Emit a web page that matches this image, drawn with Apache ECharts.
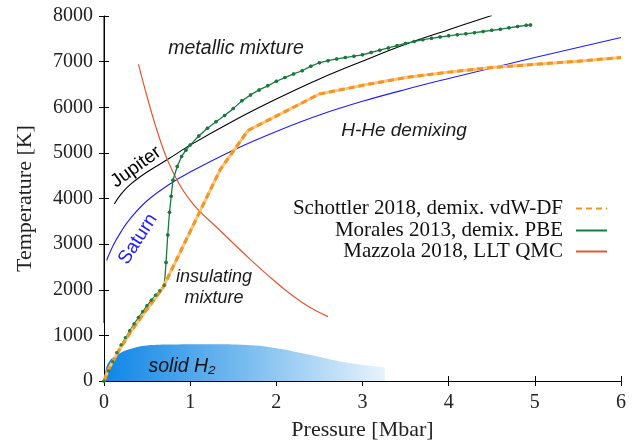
<!DOCTYPE html>
<html>
<head>
<meta charset="utf-8">
<script src="https://cdn.jsdelivr.net/npm/echarts@6/dist/echarts.min.js"></script>
<style>html,body{margin:0;padding:0;background:#fff;}#c{width:635px;height:446px;}</style>
</head>
<body>
<div id="c"></div>
<script>
// ---- data (pressure in Mbar, temperature in K) ----
var xTicks = [0, 1, 2, 3, 4, 5, 6];
var yTicks = [0, 1000, 2000, 3000, 4000, 5000, 6000, 7000, 8000];

var schottler = [[0,0],[0.05,250],[0.15,600],[0.3,1050],[0.45,1450],[0.68,2030],[1.35,4640],[1.67,5490],
  [2.5,6290],[3.0,6480],[3.5,6650],[4.0,6770],[4.5,6870],[5.0,6940],[5.5,7010],[6.0,7090]];

var morales = [[0,0],[0.05,220],[0.1,420],[0.15,620],[0.2,790],[0.25,950],[0.3,1100],[0.35,1250],[0.4,1390],
  [0.45,1520],[0.5,1650],[0.55,1770],[0.6,1880],[0.65,1980],[0.7,2100],[0.72,2600],[0.74,3200],[0.76,3700],
  [0.78,4050],[0.8,4400],[0.85,4700],[0.9,4920],[0.95,5060],[1.0,5170],[1.1,5370],[1.2,5540],[1.3,5680],
  [1.4,5820],[1.5,5970],[1.6,6140],[1.7,6270],[1.8,6380],[1.9,6470],[2.0,6570],[2.1,6650],[2.2,6730],
  [2.3,6800],[2.4,6900],[2.5,6975],[2.6,7020],[2.7,7060],[2.8,7090],[2.9,7120],[3.0,7150],[3.1,7200],
  [3.2,7250],[3.3,7300],[3.4,7350],[3.5,7400],[3.6,7440],[3.7,7480],[3.8,7510],[3.9,7540],[4.0,7565],
  [4.1,7590],[4.2,7610],[4.3,7635],[4.4,7660],[4.5,7685],[4.6,7710],[4.7,7740],[4.8,7770],[4.9,7795],[4.95,7805]];

var mazzola = [[0.4,6940],[0.5,6230],[0.6,5580],[0.7,5020],[0.8,4580],[0.9,4230],[1.0,3960],[1.1,3740],
  [1.3,3380],[1.5,3020],[1.7,2660],[1.9,2320],[2.1,2000],[2.3,1720],[2.45,1550],[2.6,1410]];

var jupiter = [[0.12,3880],[0.2,4100],[0.3,4300],[0.5,4580],[0.75,4870],[1.0,5170],[1.5,5700],[2.0,6180],
  [2.5,6620],[3.0,7010],[3.5,7380],[4.0,7700],[4.5,8010]];

var saturn = [[0.03,2640],[0.1,2950],[0.2,3280],[0.3,3550],[0.5,3950],[0.75,4300],[1.0,4580],[1.5,5060],
  [2.0,5470],[2.5,5830],[3.0,6130],[3.5,6390],[4.0,6630],[4.5,6860],[5.0,7090],[5.5,7310],[6.0,7530]];

var solidH2 = [[0,0],[0.02,250],[0.06,430],[0.15,570],[0.3,700],[0.5,780],[0.8,800],[1.2,805],[1.6,795],
  [2.0,720],[2.4,570],[2.8,410],[3.1,330],[3.26,300]];

var leftAxisDark = [[0,1270],[0,8000]];

var names = {
  s: 'Schottler 2018, demix. vdW-DF',
  m: 'Morales 2013, demix. PBE',
  z: 'Mazzola 2018, LLT QMC'
};

// ---- chart ----
var serif = 'Liberation Serif';
var sans = 'Liberation Sans';
var chart = echarts.init(document.getElementById('c'), null, {renderer: 'canvas'});

function legendFor(name, top) {
  return {
    data: [name], right: 27, top: top, orient: 'vertical', align: 'right',
    itemWidth: 31, itemHeight: 10, selectedMode: false, padding: 0,
    itemStyle: {opacity: 0},
    textStyle: {fontFamily: serif, fontSize: 21, color: '#111', lineHeight: 20, padding: [0, 8, 0, 0]}
  };
}

var plainLabel = function (v) { return String(v); };

var option = {
  animation: false,
  backgroundColor: '#fff',
  grid: {left: 104, right: 14, top: 16, bottom: 63, containLabel: false},
  xAxis: [{
    type: 'value', min: xTicks[0], max: xTicks[xTicks.length - 1], interval: 1, position: 'bottom',
    axisLine: {onZero: false, lineStyle: {color: '#000', width: 1}},
    axisTick: {inside: true, length: 5, lineStyle: {color: '#000'}},
    splitLine: {show: false},
    axisLabel: {fontFamily: serif, fontSize: 20, color: '#222', margin: 12, formatter: plainLabel},
    name: 'Pressure [Mbar]', nameLocation: 'middle', nameGap: 38,
    nameTextStyle: {fontFamily: serif, fontSize: 22, color: '#222'}
  }, {
    type: 'value', min: xTicks[0], max: xTicks[xTicks.length - 1], interval: 1, position: 'top',
    axisLine: {lineStyle: {color: '#000', width: 1}},
    axisTick: {inside: true, length: 5, lineStyle: {color: '#000'}},
    axisLabel: {show: false}, splitLine: {show: false}
  }],
  yAxis: [{
    type: 'value', min: yTicks[0], max: yTicks[yTicks.length - 1], interval: 1000, position: 'left',
    axisLine: {show: true, onZero: false, lineStyle: {color: '#9a9a9a', width: 1}},
    axisTick: {show: true, inside: true, length: 5, lineStyle: {color: '#000'}},
    splitLine: {show: false},
    axisLabel: {fontFamily: serif, fontSize: 20, color: '#222', margin: 11, formatter: plainLabel},
    name: 'Temperature [K]', nameLocation: 'middle', nameGap: 68,
    nameTextStyle: {fontFamily: serif, fontSize: 22, color: '#222'}
  }, {
    type: 'value', min: yTicks[0], max: yTicks[yTicks.length - 1], interval: 1000, position: 'right',
    axisLine: {show: true, lineStyle: {color: '#000', width: 1}},
    axisTick: {show: true, inside: true, length: 5, lineStyle: {color: '#000'}},
    axisLabel: {show: false}, splitLine: {show: false}
  }],
  legend: [legendFor(names.s, 198), legendFor(names.m, 220), legendFor(names.z, 241)],
  graphic: [
    {type: 'text', position: [236, 49], style: {text: 'metallic mixture', align: 'center', verticalAlign: 'middle', font: 'italic 19.5px ' + sans, fill: '#1a1a1a'}},
    {type: 'text', position: [404, 131], style: {text: 'H-He demixing', align: 'center', verticalAlign: 'middle', font: 'italic 19px ' + sans, fill: '#1a1a1a'}},
    {type: 'text', position: [214, 277], style: {text: 'insulating', align: 'center', verticalAlign: 'middle', font: 'italic 18px ' + sans, fill: '#1a1a1a'}},
    {type: 'text', position: [214, 298], style: {text: 'mixture', align: 'center', verticalAlign: 'middle', font: 'italic 18px ' + sans, fill: '#1a1a1a'}},
    {type: 'text', position: [182, 367], z: 100, style: {text: 'solid H\u2082', align: 'center', verticalAlign: 'middle', font: 'italic 19.5px ' + sans, fill: '#111'}},
    {type: 'text', position: [136, 167], rotation: 0.63, style: {text: 'Jupiter', align: 'center', verticalAlign: 'middle', font: '19px ' + sans, fill: '#000'}},
    {type: 'text', position: [138, 239], rotation: 1.0, style: {text: 'Saturn', align: 'center', verticalAlign: 'middle', font: '19px ' + sans, fill: '#1c1cff'}}
  ],
  series: [
    {
      type: 'line', name: 'solidH2', data: solidH2, symbol: 'none', smooth: 0.4, silent: true, z: 1,
      lineStyle: {width: 0},
      areaStyle: {opacity: 1, color: {type: 'linear', x: 0, y: 0, x2: 1, y2: 0, colorStops: [
        {offset: 0, color: '#0e86e6'}, {offset: 0.45, color: '#6db6ee'}, {offset: 1, color: '#e8f3fc'}]}}
    },
    {type: 'line', name: 'Jupiter', data: jupiter, symbol: 'none', smooth: 0.4, z: 3,
      lineStyle: {color: '#000', width: 1.1}},
    {type: 'line', name: 'Saturn', data: saturn, symbol: 'none', smooth: 0.4, z: 3,
      lineStyle: {color: '#1c1cff', width: 1.1}},
    {type: 'line', name: names.z, data: mazzola, symbol: 'none', smooth: 0.4, z: 3,
      itemStyle: {color: '#e4572e'}, lineStyle: {color: '#e4572e', width: 1.2}},
    {type: 'line', name: names.m, data: morales, symbol: 'circle', symbolSize: 3.5, showSymbol: true, z: 4,
      itemStyle: {color: '#187a3c'}, lineStyle: {color: '#187a3c', width: 1.3}},
    {type: 'line', name: 'schottlerBase', data: schottler, symbol: 'none', z: 5,
      lineStyle: {color: '#fcc47e', width: 3}},
    {type: 'line', name: names.s, data: schottler, symbol: 'none', z: 6,
      itemStyle: {color: '#f7941d'}, lineStyle: {color: '#f7941d', width: 3, type: [6, 4]}},
    {type: 'scatter', name: 'moralesDots', data: morales, symbol: 'circle', symbolSize: 3.5, z: 7, silent: true,
      itemStyle: {color: '#187a3c'}},
    {type: 'line', name: 'leftAxis', data: leftAxisDark, symbol: 'none', z: 8, silent: true, clip: false,
      lineStyle: {color: '#000', width: 1}}
  ]
};
chart.setOption(option);
</script>
</body>
</html>
